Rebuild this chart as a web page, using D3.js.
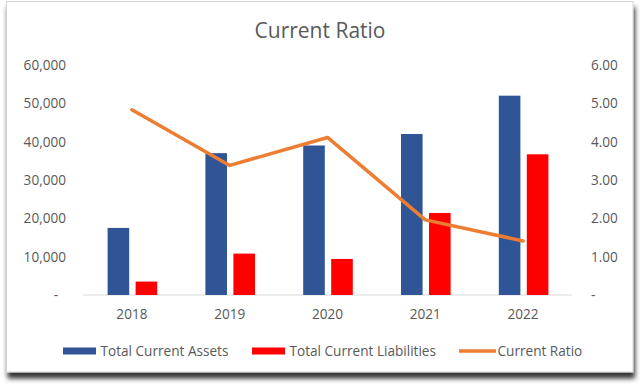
<!DOCTYPE html>
<html><head><meta charset="utf-8">
<script src="https://cdn.jsdelivr.net/npm/d3@7"></script>
<style>body{margin:0;background:#fff}</style>
</head><body>
<svg id="c" width="640" height="390"></svg>
<script>
const years = ["2018", "2019", "2020", "2021", "2022"];
const totalCurrentAssets = [17500, 37000, 39000, 42000, 52000];
const totalCurrentLiabilities = [3500, 10800, 9400, 21400, 36700];
const currentRatio = [4.83, 3.38, 4.11, 1.96, 1.41];
const leftTicks = [0, 10000, 20000, 30000, 40000, 50000, 60000];
const rightTicks = [0, 1, 2, 3, 4, 5, 6];
const seriesNames = ["Total Current Assets", "Total Current Liabilities", "Current Ratio"];

const FONT = "'Open Sans', sans-serif";
const TXT = "#595959";
const FS = 13.6;
const svg = d3.select("#c");

// frame with shadow
const defs = svg.append("defs");
const f = defs.append("filter").attr("id", "sh").attr("x", "-5%").attr("y", "-5%").attr("width", "110%").attr("height", "115%");
f.append("feDropShadow").attr("dx", 1.5).attr("dy", 6).attr("stdDeviation", 2.5)
  .attr("flood-color", "#000").attr("flood-opacity", 0.8);
svg.append("rect").attr("x", 6.5).attr("y", 1.5).attr("width", 626.5).attr("height", 370.5)
  .attr("fill", "#fff").attr("stroke", "#d4d4d4").attr("stroke-width", 1).attr("filter", "url(#sh)");

const x0 = d3.scaleBand().domain(years).range([83, 572]);
const bw = x0.bandwidth();
const x1 = d3.scaleBand().domain(["a", "l"]).range([bw / 2 - 24.3, bw / 2 + 25.3]).paddingInner(0.2286);
const yL = d3.scaleLinear().domain([0, 60000]).range([295, 65]);
const yR = d3.scaleLinear().domain([0, 6]).range([295, 65]);

// title
svg.append("text").attr("x", 320).attr("y", 37.5).attr("text-anchor", "middle")
  .attr("font-family", FONT).attr("font-size", 21).attr("fill", TXT).text("Current Ratio");

// axes
const gl = svg.append("g").attr("transform", "translate(83,0)")
  .call(d3.axisLeft(yL).tickValues(leftTicks).tickSize(0).tickPadding(17)
    .tickFormat(d => d === 0 ? "-" : d3.format(",")(d)));
gl.select(".domain").remove();
gl.selectAll("text").attr("font-family", FONT).attr("font-size", FS).attr("fill", TXT)
  .attr("dx", d => d === 0 ? -8 : 0);

const gr = svg.append("g").attr("transform", "translate(572,0)")
  .call(d3.axisRight(yR).tickValues(rightTicks).tickSize(0).tickPadding(19)
    .tickFormat(d => d === 0 ? "-" : d3.format(".2f")(d)));
gr.select(".domain").remove();
gr.selectAll("text").attr("font-family", FONT).attr("font-size", FS).attr("fill", TXT);

// baseline
svg.append("line").attr("x1", 83).attr("x2", 572).attr("y1", yL(0)).attr("y2", yL(0))
  .attr("stroke", "#d9d9d9").attr("stroke-width", 1);

// bars
const data = years.map((y, i) => ({ year: y, a: totalCurrentAssets[i], l: totalCurrentLiabilities[i], r: currentRatio[i] }));
const g = svg.append("g");
g.selectAll(".ba").data(data).join("rect")
  .attr("x", d => x0(d.year) + x1("a")).attr("width", x1.bandwidth())
  .attr("y", d => yL(d.a)).attr("height", d => yL(0) - yL(d.a)).attr("fill", "#2F5597");
g.selectAll(".bl").data(data).join("rect")
  .attr("x", d => x0(d.year) + x1("l")).attr("width", x1.bandwidth())
  .attr("y", d => yL(d.l)).attr("height", d => yL(0) - yL(d.l)).attr("fill", "#FF0000");

// line
const line = d3.line().x(d => x0(d.year) + bw / 2).y(d => yR(d.r));
svg.append("path").datum(data).attr("d", line).attr("fill", "none")
  .attr("stroke", "#ED7D31").attr("stroke-width", 3.5).attr("stroke-linejoin", "round").attr("stroke-linecap", "round");

// x labels
const gx = svg.append("g").attr("transform", `translate(0,${yL(0)})`)
  .call(d3.axisBottom(x0).tickSize(0).tickPadding(14));
gx.select(".domain").remove();
gx.selectAll("text").attr("font-family", FONT).attr("font-size", FS).attr("fill", TXT);

// legend
const lg = svg.append("g").attr("font-family", FONT).attr("font-size", FS).attr("fill", TXT);
const legendItems = [
  { name: seriesNames[0], type: "rect", color: "#2F5597", x: 63 },
  { name: seriesNames[1], type: "rect", color: "#FF0000", x: 252 },
  { name: seriesNames[2], type: "line", color: "#ED7D31", x: 459 }
];
legendItems.forEach(it => {
  if (it.type === "rect") {
    lg.append("rect").attr("x", it.x).attr("y", 347.5).attr("width", 33).attr("height", 7).attr("fill", it.color);
  } else {
    lg.append("line").attr("x1", it.x).attr("x2", it.x + 37).attr("y1", 351).attr("y2", 351)
      .attr("stroke", it.color).attr("stroke-width", 3.5);
  }
  lg.append("text").attr("x", it.x + (it.type === "rect" ? 37.5 : 38.5)).attr("y", 351).attr("dy", "0.35em").text(it.name);
});
</script>
</body></html>
